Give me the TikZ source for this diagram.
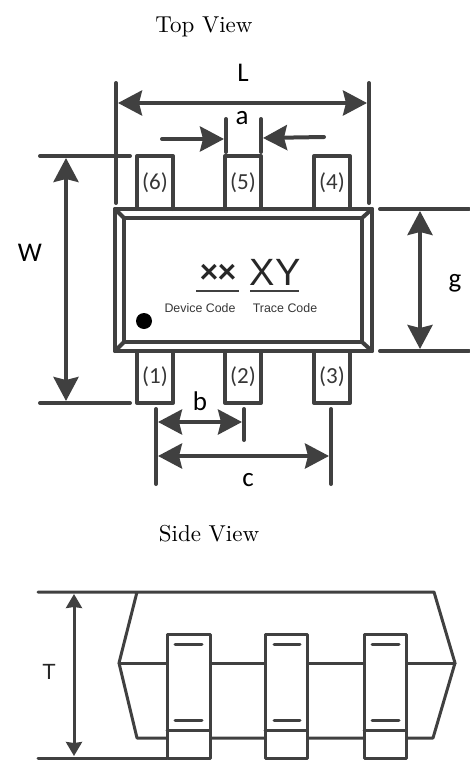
\documentclass[tikz,border=0pt]{standalone}
\usepackage{fontspec}
\newfontfamily\labelfont{Carlito}
\newfontfamily\codefont{Liberation Sans}
\newfontfamily\titlefont{lmroman10-regular.otf}
\usetikzlibrary{arrows.meta}
\definecolor{pkggray}{HTML}{404040}
\tikzset{
  pkg/.style = {draw=pkggray, line width=4pt, line join=round, line cap=round},
  thinpkg/.style = {draw=pkggray, line width=3pt, line join=round, line cap=round},
  dim/.style = {pkg, {Stealth[length=24pt,width=25pt,inset=3pt]}-{Stealth[length=24pt,width=25pt,inset=3pt]}},
  onedim/.style = {pkg, -{Stealth[length=24pt,width=25pt,inset=3pt]}},
  smalldim/.style = {thinpkg, {Stealth[length=14pt,width=16pt,inset=1pt]}-{Stealth[length=14pt,width=16pt,inset=1pt]}},
  dimlabel/.style = {font=\labelfont\fontsize{27}{27}\selectfont, text=black, inner sep=0pt},
  pinlabel/.style = {font=\labelfont\fontsize{23}{23}\selectfont, text=pkggray!85!black, inner sep=0pt},
  codelabel/.style = {font=\codefont\fontsize{12.4}{13}\selectfont, text=pkggray!85!black, inner sep=0pt},
  title/.style = {font=\titlefont\fontsize{23}{23}\selectfont, text=black, inner sep=0pt}
}
\begin{document}
\begin{tikzpicture}[x=1pt,y=-1pt]
  \useasboundingbox (0,0) rectangle (470,760);

  % Titles
  \node[title] (toptitle) at (204,27) {Top View};
  \node[title] (sidetitle) at (209,534) {Side View};

  % Top view: pins
  \draw[pkg] (137,209) -- (137,156) -- (173,156) -- (173,209);
  \draw[pkg] (225,209) -- (225,156) -- (261,156) -- (261,209);
  \draw[pkg] (314,209) -- (314,156) -- (350,156) -- (350,209);
  \draw[pkg] (137,351) -- (137,403) -- (173,403) -- (173,351);
  \draw[pkg] (225,351) -- (225,403) -- (261,403) -- (261,351);
  \draw[pkg] (314,351) -- (314,403) -- (350,403) -- (350,351);
  \node[pinlabel] (pin6) at (155,183) {(6)};
  \node[pinlabel] (pin5) at (243,183) {(5)};
  \node[pinlabel] (pin4) at (332,183) {(4)};
  \node[pinlabel] (pin1) at (155,377) {(1)};
  \node[pinlabel] (pin2) at (243,377) {(2)};
  \node[pinlabel] (pin3) at (332,377) {(3)};

  % Top view: body with bevel
  \draw[pkg] (115,209) rectangle (372,351);
  \draw[pkg] (124,218) rectangle (362,342);
  \draw[pkg] (115,209) -- (124,218);
  \draw[pkg] (372,209) -- (362,218);
  \draw[pkg] (115,351) -- (124,342);
  \draw[pkg] (372,351) -- (362,342);

  % Marking
  \node[font=\labelfont\bfseries\fontsize{36}{36}\selectfont, text=pkggray!60!black, inner sep=0pt] (devmark) at (218,274) {××};
  \node[font=\codefont\fontsize{38}{38}\selectfont, text=pkggray!60!black, inner sep=0pt] (tracemark) at (275,272) {XY};
  \draw[pkggray, line width=2pt] (196,291) -- (239,291);
  \draw[pkggray, line width=2pt] (250,291) -- (299,291);
  \node[codelabel] (devcode) at (200,308) {Device Code};
  \node[codelabel] (tracecode) at (285,308) {Trace Code};
  \fill[black] (144,321) circle (8);

  % L
  \draw[pkg] (116,83) -- (116,203);
  \draw[pkg] (369,83) -- (369,203);
  \draw[dim] (118,103) -- (367,103);
  \node[dimlabel] (labelL) at (243,73) {L};

  % a
  \draw[pkg] (226,119) -- (226,152);
  \draw[pkg] (261,119) -- (261,152);
  \draw[onedim] (162,139) -- (224,139);
  \draw[onedim] (324,137) -- (263,138);
  \node[dimlabel] (labela) at (242,118) {a};

  % W
  \draw[pkg] (40,156) -- (130,156);
  \draw[pkg] (40,403) -- (130,403);
  \draw[dim] (66,158) -- (66,401);
  \node[dimlabel] (labelW) at (30,253) {W};

  % g
  \draw[pkg] (380,209) -- (469,209);
  \draw[pkg] (380,351) -- (469,351);
  \draw[dim] (420,211) -- (420,349);
  \node[dimlabel] (labelg) at (455,283) {g};

  % b and c
  \draw[pkg] (156,409) -- (156,484);
  \draw[pkg] (244,409) -- (244,440);
  \draw[pkg] (331,409) -- (331,484);
  \draw[dim] (158,422) -- (242,422);
  \draw[dim] (158,456) -- (329,456);
  \node[dimlabel] (labelb) at (200,401) {b};
  \node[dimlabel] (labelc) at (248,480) {c};

  % Side view: body
  \draw[thinpkg] (38,592) -- (434,592) -- (455,663) -- (433,738) -- (137,738) -- (119,663) -- (137,592);
  \draw[thinpkg] (119,663) -- (455,663);
  \draw[thinpkg] (38,758) -- (167,758);

  % Side view: pins
  \draw[thinpkg, fill=white] (167,634) rectangle (210,758);
  \draw[thinpkg, fill=white] (265,634) rectangle (307,758);
  \draw[thinpkg, fill=white] (364,634) rectangle (406,758);
  \draw[thinpkg] (167,730) -- (210,730);
  \draw[thinpkg] (265,730) -- (307,730);
  \draw[thinpkg] (364,730) -- (406,730);
  \draw[thinpkg] (175,644) -- (202,644);
  \draw[thinpkg] (175,720) -- (202,720);
  \draw[thinpkg] (274,644) -- (300,644);
  \draw[thinpkg] (274,720) -- (300,720);
  \draw[thinpkg] (372,644) -- (399,644);
  \draw[thinpkg] (372,720) -- (399,720);

  % T
  \draw[smalldim] (74,594) -- (74,756);
  \node[font=\codefont\fontsize{22}{22}\selectfont, text=pkggray!60!black, inner sep=0pt] (labelT) at (49,672) {T};
\end{tikzpicture}
\end{document}
